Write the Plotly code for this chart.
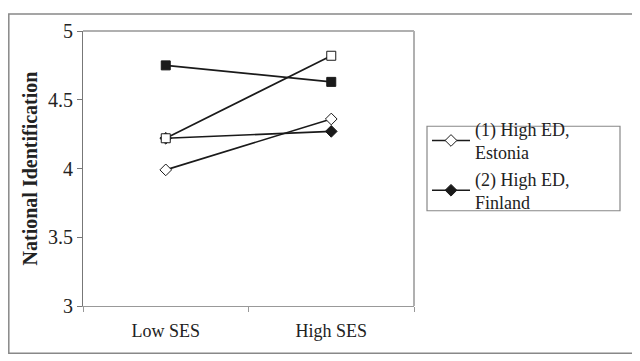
import plotly.graph_objects as go

categories = ["Low SES", "High SES"]
est_high_ed = [3.99, 4.36]      # (1) High ED, Estonia - open diamond
fin_high_ed = [4.22, 4.27]      # (2) High ED, Finland - filled diamond
open_square = [4.22, 4.82]
filled_square = [4.75, 4.63]
y_ticks = [3, 3.5, 4, 4.5, 5]
y_tick_labels = ["3", "3.5", "4", "4.5", "5"]

FONT = "Liberation Serif"
TXT = "#222222"
fig = go.Figure()

line = dict(color="#1a1a1a", width=1.6)
fig.add_trace(go.Scatter(x=categories, y=est_high_ed, mode="lines+markers", line=line,
                         name="(1) High ED,<br>Estonia",
                         marker=dict(symbol="diamond", size=9, color="white",
                                     line=dict(color="#1a1a1a", width=1))))
fig.add_trace(go.Scatter(x=categories, y=fin_high_ed, mode="lines+markers", line=line,
                         name="(2) High ED,<br>Finland",
                         marker=dict(symbol="diamond", size=9, color="#1a1a1a",
                                     line=dict(color="#1a1a1a", width=1))))
fig.add_trace(go.Scatter(x=categories, y=open_square, mode="lines+markers", line=line,
                         marker=dict(symbol="square", size=9, color="white",
                                     line=dict(color="#1a1a1a", width=1)),
                         showlegend=False))
fig.add_trace(go.Scatter(x=categories, y=filled_square, mode="lines+markers", line=line,
                         marker=dict(symbol="square", size=9, color="#1a1a1a",
                                     line=dict(color="#1a1a1a", width=1)),
                         showlegend=False))

# page has an 8px body margin; work in figure coordinates (page - 8)
OFF = 8
L, R, T, B = 83 - OFF, 414 - OFF, 26 - OFF, 306 - OFF
W, H = 640 - OFF, 361 - OFF
pw, ph = R - L, B - T

def px(x):
    return (x - OFF - L) / pw

def py(y):
    return (B - (y - OFF)) / ph

fig.update_layout(
    width=W, height=H,
    margin=dict(l=L, r=W - R, t=T, b=H - B, pad=0),
    paper_bgcolor="white", plot_bgcolor="white",
    font=dict(family=FONT, size=17, color=TXT),
    xaxis=dict(type="category", range=[-0.5, 1.5], showgrid=False, zeroline=False,
               showline=True, linecolor="#999999", linewidth=1,
               ticks="outside", ticklen=5, tickcolor="#999999", tickson="boundaries",
               ticklabelstandoff=8,
               tickfont=dict(family=FONT, size=18, color=TXT)),
    yaxis=dict(range=[3, 5], tickvals=y_ticks, ticktext=y_tick_labels, showgrid=False,
               zeroline=False, showline=True, linecolor="#777777", linewidth=1,
               ticks="outside", ticklen=5, tickcolor="#777777",
               tickfont=dict(family=FONT, size=20, color=TXT),
               title=dict(text="<b>National Identification</b>", standoff=5,
                          font=dict(family=FONT, size=20, color=TXT))),
    legend=dict(x=px(427), y=py(107), xanchor="left", yanchor="top",
                borderwidth=0, bgcolor="rgba(0,0,0,0)",
                font=dict(family=FONT, size=18, color=TXT),
                tracegroupgap=0, itemwidth=38),
    showlegend=True,
)

# plot area border (top/right), light gray
fig.add_shape(type="line", xref="paper", yref="paper", x0=0, x1=1, y0=1, y1=1,
              line=dict(color="#b0b0b0", width=2))
fig.add_shape(type="line", xref="paper", yref="paper", x0=1, x1=1, y0=0, y1=1,
              line=dict(color="#b0b0b0", width=2))
# legend box
fig.add_shape(type="rect", xref="paper", yref="paper",
              x0=px(427), x1=px(620), y0=py(123), y1=py(209),
              line=dict(color="#888888", width=1.2), layer="below")
# outer frame
fig.add_shape(type="rect", xref="paper", yref="paper",
              x0=px(OFF + 0.8), x1=px(633), y0=py(OFF + 0.8), y1=py(354),
              line=dict(color="#888888", width=1.5), layer="below")

fig.write_html("out.html")
